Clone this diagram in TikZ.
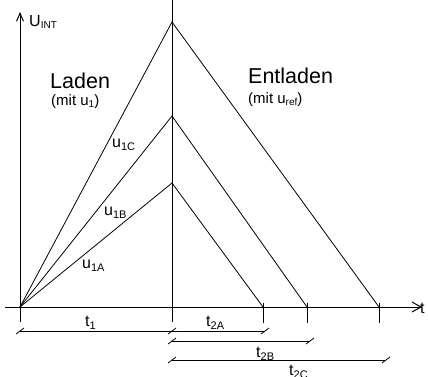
\documentclass[tikz,border=0pt]{standalone}
\usepackage{fontspec}
\setmainfont{Liberation Sans}
\usetikzlibrary{arrows.meta}
\newcommand{\lsub}[1]{\raisebox{-0.4ex}{\fontsize{11}{11}\selectfont #1}}
\newcommand{\ssub}[1]{\raisebox{-0.35ex}{\fontsize{10}{10}\selectfont #1}}
\tikzset{
  ln/.style={line width=0.8pt},
  ax/.style={line width=1pt},
  tk/.style={line width=1pt},
  dim/.style={line width=0.8pt},
  sl/.style={line width=0.8pt},
  lbl/.style={inner sep=0pt, anchor=base west, font=\fontsize{16}{16}\selectfont},
  big/.style={inner sep=0pt, anchor=base west, font=\fontsize{21.5}{21.5}\selectfont},
  sml/.style={inner sep=0pt, anchor=base west, font=\fontsize{15}{15}\selectfont},
}
\begin{document}
\begin{tikzpicture}[x=1pt,y=-1pt]
\useasboundingbox (0,0) rectangle (428,376);
% key points
\coordinate (O) at (20,307);
\coordinate (PA) at (172,183);
\coordinate (PB) at (172,116);
\coordinate (PC) at (172,22);
\coordinate (EA) at (263,307);
\coordinate (EB) at (307,307);
\coordinate (EC) at (379,307);
\coordinate (Ybot) at (20,322);
\coordinate (Ytop) at (20,12);
\coordinate (Xl) at (5,307);
\coordinate (Xr) at (422,307);
\coordinate (Mbot) at (172,322);
\coordinate (Mtop) at (172,0);
% axes
\draw[ax,-{Straight Barb[length=8pt,width=7pt]}] (Ybot) -- (Ytop);
\draw[ax,-{Straight Barb[length=9pt,width=10pt]}] (Xl) -- (Xr);
\draw[ln] (Mbot) -- (Mtop);
% ramps
\draw[ln] (O) -- (PA) -- (EA);
\draw[ln] (O) -- (PB) -- (EB);
\draw[ln] (O) -- (PC) -- (EC);
% end ticks
\foreach \p in {EA,EB,EC}
  \draw[tk] ([yshift=4pt]\p) -- ([yshift=-16pt]\p);
% dimension lines
\coordinate (D1a) at (20,331);
\coordinate (D1b) at (172,331);
\coordinate (D2a) at (265,331);
\coordinate (D3a) at (172,341);
\coordinate (D3b) at (310,341);
\coordinate (D4a) at (172,360);
\coordinate (D4b) at (386,360);
\draw[dim] (D1a) -- (D1b) -- (D2a);
\draw[dim] (D3a) -- (D3b);
\draw[dim] (D4a) -- (D4b);
\foreach \p in {D1a,D1b,D2a,D3a,D3b,D4a,D4b}
  \draw[sl] ([shift={(-4,3)}]\p) -- ([shift={(4,-3)}]\p);
% labels
\node[lbl] (uint) at (29,26) {U\ssub{INT}};
\node[lbl] (tax) at (420,313) {t};
\node[big] (laden) at (50,88) {Laden};
\node[sml] (mit1) at (51,105) {(mit u\ssub{1})};
\node[big] (entl) at (248,83) {Entladen};
\node[sml] (mit2) at (248,103) {(mit u\ssub{ref})};
\node[lbl] (uc) at (112,147) {u\lsub{1C}};
\node[lbl] (ub) at (104,215) {u\lsub{1B}};
\node[lbl] (ua) at (82,268) {u\lsub{1A}};
\node[lbl] (t1) at (85,326) {t\lsub{1}};
\node[lbl] (t2a) at (206,326) {t\lsub{2A}};
\node[lbl] (t2b) at (256,357) {t\lsub{2B}};
\node[lbl] (t2c) at (289,375) {t\lsub{2C}};
\end{tikzpicture}
\end{document}
